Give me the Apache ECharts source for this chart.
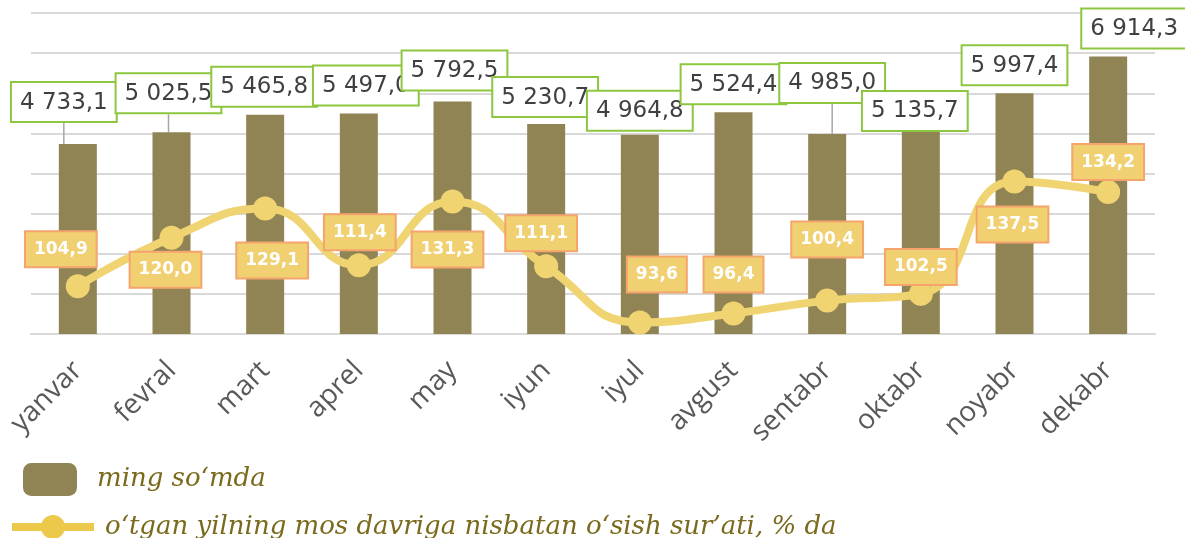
<!DOCTYPE html>
<html>
<head>
<meta charset="utf-8">
<script src="https://cdn.jsdelivr.net/npm/echarts@6/dist/echarts.min.js"></script>
<style>
  html, body { margin: 0; padding: 0; background: #fff; }
  #chart { width: 1185px; height: 538px; }
</style>
</head>
<body>
<div id="chart"></div>
<script>
var months = ['yanvar', 'fevral', 'mart', 'aprel', 'may', 'iyun', 'iyul', 'avgust', 'sentabr', 'oktabr', 'noyabr', 'dekabr'];
var amounts = [4733.1, 5025.5, 5465.8, 5497.0, 5792.5, 5230.7, 4964.8, 5524.4, 4985.0, 5135.7, 5997.4, 6914.3];
var growth = [104.9, 120.0, 129.1, 111.4, 131.3, 111.1, 93.6, 96.4, 100.4, 102.5, 137.5, 134.2];
var barName = 'ming so‘mda';
var lineName = 'o‘tgan yilning mos davriga nisbatan o‘sish sur’ati, % da';

// label nudges (px), same as the labels were dragged in the original
var barLabelShift = [[-14, -18], [-3, -15], [-1, -4], [7, -4], [2, -7], [-1, -3], [0, 0], [0, -4], [5, -27], [-6, 7], [0, -4], [26, -4]];
var leaderIdx = [0, 1, 8];
var lineLabelShift = [[-17, -37], [-6, 32], [7, 52], [1, -33], [-5, 48], [-5, -33], [17, -48], [0, -39], [0, -61], [0, -27], [-2, 43], [0, -30]];

function fmt(v) {
    var parts = v.toFixed(1).split('.');
    var intPart = parts[0].replace(/\B(?=(\d{3})+(?!\d))/g, ' ');
    return intPart + ',' + parts[1];
}

var barData = amounts.map(function (v, i) {
    return {
        value: v,
        labelLine: { show: leaderIdx.indexOf(i) >= 0 }
    };
});

var chart = echarts.init(document.getElementById('chart'));
var option = {
    animation: false,
    grid: { left: 31, right: 30, top: 13, bottom: 204, containLabel: false },
    legend: [
        {
            data: [{ name: barName, icon: 'roundRect' }],
            left: 18, top: 458,
            itemWidth: 54, itemHeight: 33,
            textStyle: { fontFamily: 'DejaVu Serif', fontStyle: 'italic', fontSize: 26, color: '#7A6A1C', padding: [0, 0, 0, 15] }
        },
        {
            data: [{ name: lineName, itemStyle: { color: '#ECC94B' } }],
            left: 3, top: 509,
            itemWidth: 82, itemHeight: 30,
            lineStyle: { width: 8, color: '#ECC94B' },
            textStyle: { fontFamily: 'DejaVu Serif', fontStyle: 'italic', fontSize: 26, color: '#7A6A1C', padding: [0, 0, 8, 6] }
        }
    ],
    xAxis: {
        type: 'category',
        data: months,
        axisLine: { lineStyle: { color: '#D9D9D9', width: 2 } },
        axisTick: { show: false },
        axisLabel: {
            rotate: 45, margin: 32, interval: 0,
            fontFamily: 'Open Sans', fontSize: 28, color: '#595959'
        }
    },
    yAxis: [
        {
            type: 'value', min: 0, max: 8000, interval: 1000,
            axisLabel: { show: false }, axisLine: { show: false }, axisTick: { show: false },
            splitLine: { lineStyle: { color: '#D9D9D9', width: 2 } }
        },
        {
            type: 'value', min: 90, max: 190,
            axisLabel: { show: false }, axisLine: { show: false }, axisTick: { show: false },
            splitLine: { show: false }
        }
    ],
    series: [
        {
            name: barName,
            type: 'bar',
            data: barData,
            barWidth: 38,
            itemStyle: { color: '#918454' },
            label: {
                show: true,
                position: 'top',
                distance: 5,
                formatter: function (p) { return fmt(p.value); },
                fontFamily: 'DejaVu Sans', fontSize: 23, color: '#404040',
                backgroundColor: '#fff',
                borderColor: '#8DC63F', borderWidth: 2,
                padding: [8, 8, 7, 8]
            },
            labelLine: { lineStyle: { color: '#A6A6A6', width: 1.5 } },
            labelLayout: function (p) {
                var s = barLabelShift[p.dataIndex];
                return { dx: s[0], dy: s[1] };
            },
            z: 2
        },
        {
            name: lineName,
            type: 'line',
            yAxisIndex: 1,
            data: growth,
            smooth: 0.5,
            symbol: 'circle',
            symbolSize: 24,
            lineStyle: { color: '#F0D472', width: 8 },
            itemStyle: { color: '#F0D472' },
            label: {
                show: true,
                position: 'inside',
                formatter: function (p) { return p.value.toFixed(1).replace('.', ','); },
                fontFamily: 'DejaVu Sans', fontWeight: 'bold', fontSize: 17, color: '#fff',
                backgroundColor: '#F0D070',
                borderColor: '#F4A46C', borderWidth: 2,
                padding: [9, 8, 8, 8]
            },
            labelLayout: function (p) {
                var s = lineLabelShift[p.dataIndex];
                return { dx: s[0], dy: s[1] };
            },
            z: 3
        }
    ]
};
chart.setOption(option);
</script>
</body>
</html>
